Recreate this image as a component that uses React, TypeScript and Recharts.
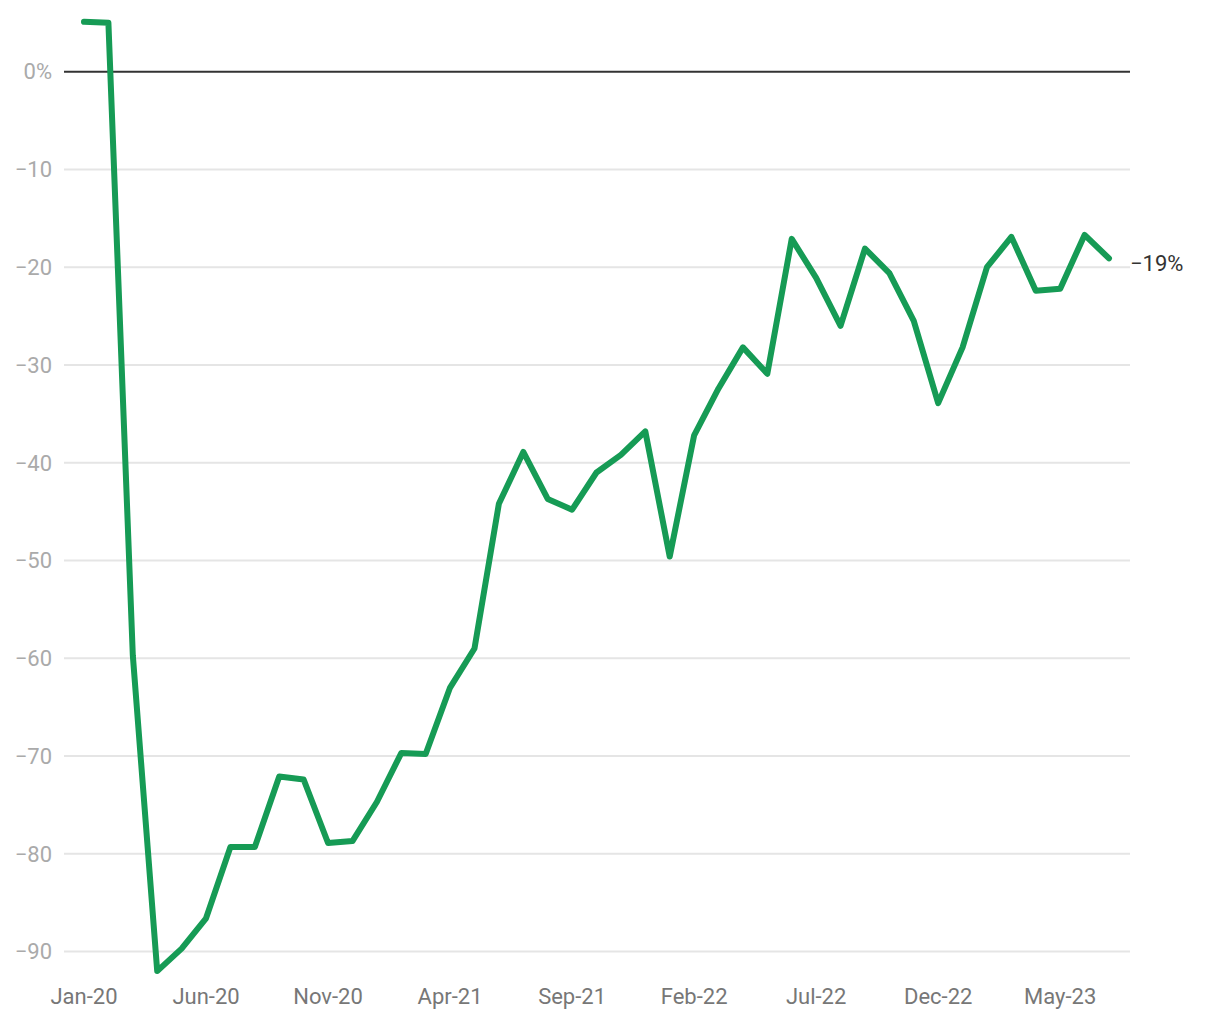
import React from "react";
import { LineChart, Line, XAxis, YAxis, ReferenceLine } from "recharts";

const months = [
  "Jan-20", "Feb-20", "Mar-20", "Apr-20", "May-20", "Jun-20", "Jul-20", "Aug-20", "Sep-20", "Oct-20", "Nov-20", "Dec-20",
  "Jan-21", "Feb-21", "Mar-21", "Apr-21", "May-21", "Jun-21", "Jul-21", "Aug-21", "Sep-21", "Oct-21", "Nov-21", "Dec-21",
  "Jan-22", "Feb-22", "Mar-22", "Apr-22", "May-22", "Jun-22", "Jul-22", "Aug-22", "Sep-22", "Oct-22", "Nov-22", "Dec-22",
  "Jan-23", "Feb-23", "Mar-23", "Apr-23", "May-23", "Jun-23", "Jul-23",
];

const changePct = [
  5.1, 5.0, -59.7, -92.0, -89.7, -86.6, -79.3, -79.3, -72.1, -72.4, -78.9, -78.7,
  -74.7, -69.7, -69.8, -63.0, -59.0, -44.2, -38.9, -43.7, -44.8, -41.0, -39.2, -36.8,
  -49.6, -37.2, -32.4, -28.2, -30.9, -17.1, -21.1, -26.0, -18.1, -20.6, -25.5, -33.9,
  -28.2, -20.0, -16.9, -22.4, -22.2, -16.7, -19.1,
];

const yTicks = [-90, -80, -70, -60, -50, -40, -30, -20, -10, 0];
const endLabel = "\u221219%";

const data = months.map((m, i) => ({ month: m, value: changePct[i] }));

const fmtY = (v: number) => (v === 0 ? "0%" : v < 0 ? "\u2212" + Math.abs(v) : String(v));

const FONT = "Roboto, 'Noto Sans', sans-serif";

const EndLabel = (props: any) => {
  const { x, y, index } = props;
  if (index !== data.length - 1) return null;
  return (
    <text x={x + 21} y={y + 5} fill="#333" fontSize={22} fontFamily={FONT} dominantBaseline="central">
      {endLabel}
    </text>
  );
};

export default function App() {
  return (
    <div style={{ position: "absolute", left: 0, top: 0, width: 1220, height: 1020, background: "#fff" }}>
      <LineChart width={1220} height={1020} data={data} margin={{ top: 13, right: 90, bottom: 0, left: 0 }}>
        <XAxis
          dataKey="month"
          interval={4}
          height={44}
          padding={{ left: 20, right: 21 }}
          axisLine={false}
          tickLine={false}
          tickSize={0}
          tickMargin={12}
          tick={{ fill: "#777", fontSize: 22, fontFamily: FONT }}
        />
        <YAxis
          width={64}
          domain={[-92.5, 6]}
          ticks={yTicks}
          tickFormatter={fmtY}
          axisLine={false}
          tickLine={false}
          tickSize={0}
          tickMargin={12}
          tick={{ fill: "#aaa", fontSize: 22, fontFamily: FONT }}
        />
        {yTicks
          .filter((t) => t !== 0)
          .map((t) => (
            <ReferenceLine key={t} y={t} stroke="#e5e5e5" strokeWidth={2} />
          ))}
        <ReferenceLine y={0} stroke="#333" strokeWidth={2} />
        <Line
          type="linear"
          dataKey="value"
          stroke="#169b55"
          strokeWidth={6}
          strokeLinejoin="round"
          strokeLinecap="round"
          dot={false}
          isAnimationActive={false}
          label={<EndLabel />}
        />
      </LineChart>
    </div>
  );
}
